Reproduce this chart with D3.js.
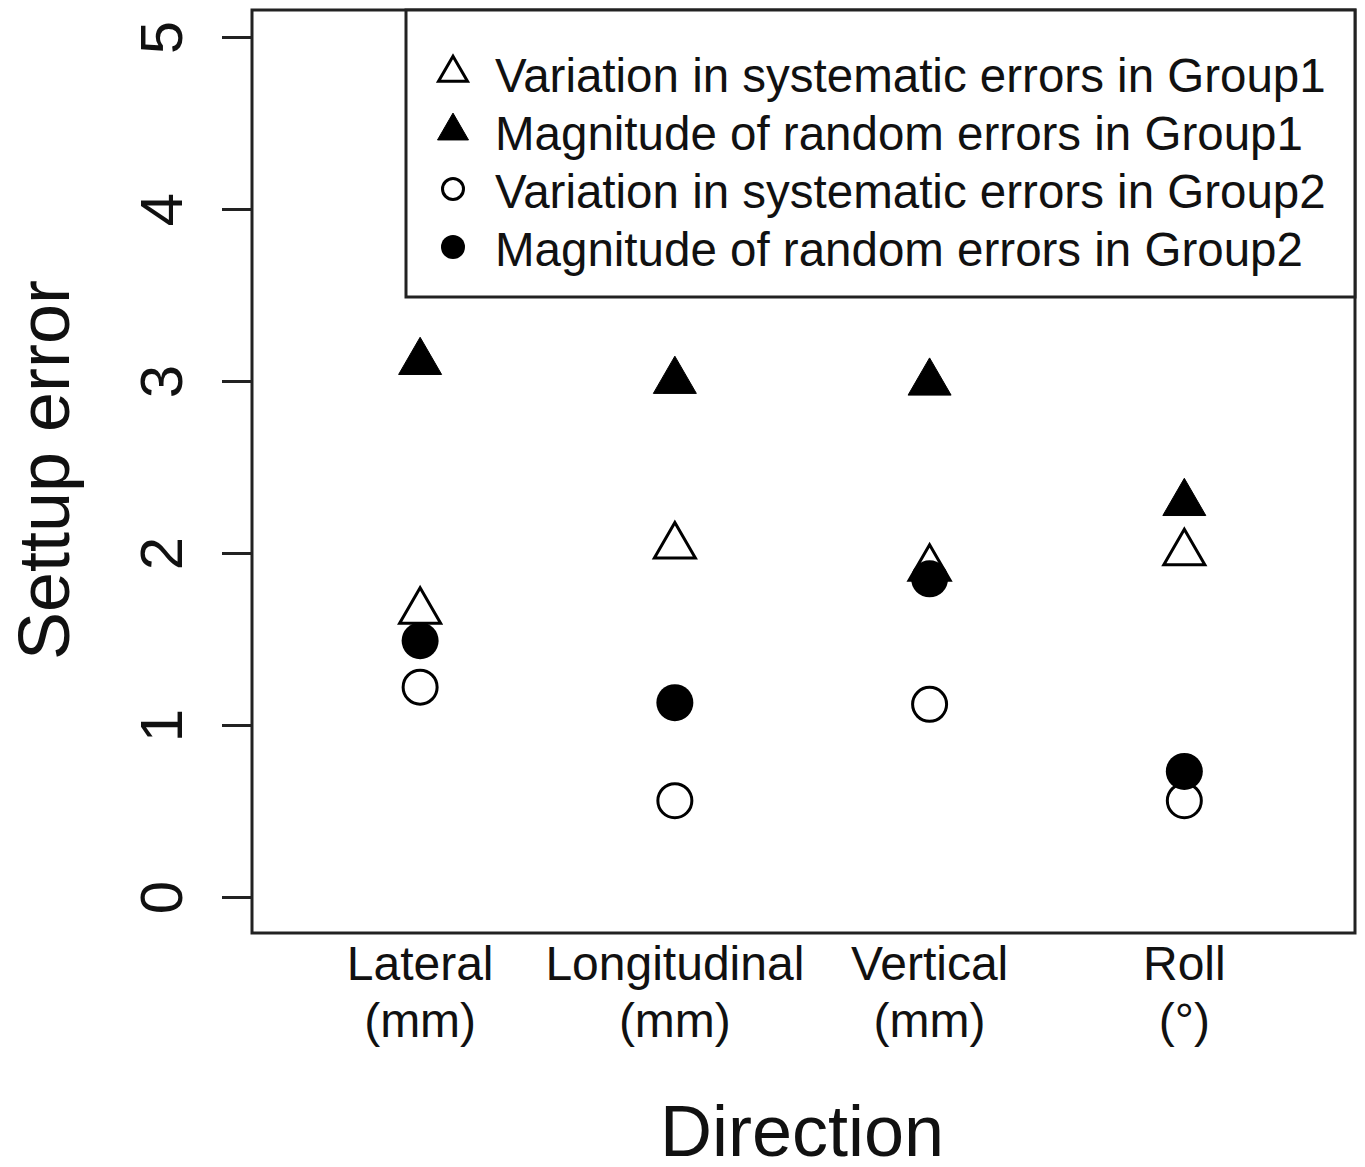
<!DOCTYPE html>
<html>
<head>
<meta charset="utf-8">
<script src="https://cdn.jsdelivr.net/npm/d3@7"></script>
<style>
  body { margin: 0; background: #fff; }
  text { font-family: "Liberation Sans", Arial, sans-serif; fill: #111; }
</style>
</head>
<body>
<svg id="chart" width="1365" height="1167"></svg>
<script>
// categories along the x axis (two-line labels)
const categories = [
  ["Lateral", "(mm)"],
  ["Longitudinal", "(mm)"],
  ["Vertical", "(mm)"],
  ["Roll", "(°)"],
];

// setup error values per direction
const sysGroup1 = [1.66, 2.04, 1.91, 2.0];
const randGroup1 = [3.11, 3.0, 2.99, 2.29];
const sysGroup2 = [1.22, 0.56, 1.12, 0.56];
const randGroup2 = [1.49, 1.13, 1.85, 0.73];

const yTicks = [0, 1, 2, 3, 4, 5];

const legendLabels = [
  "Variation in systematic errors in Group1",
  "Magnitude of random errors in Group1",
  "Variation in systematic errors in Group2",
  "Magnitude of random errors in Group2",
];

const series = [
  { values: sysGroup1, shape: "triangle", filled: false },
  { values: randGroup1, shape: "triangle", filled: true },
  { values: sysGroup2, shape: "circle", filled: false },
  { values: randGroup2, shape: "circle", filled: true },
];

const box = { left: 252, right: 1355, top: 10, bottom: 933 };

const svg = d3.select("#chart");

const x = d3.scaleLinear().domain([0.34, 4.67]).range([box.left, box.right]);
const y = d3.scaleLinear().domain([0, 5]).range([897, 37]);

// triangle path centred on its centroid, w = width
function triangle(w) {
  const k = w / 2.694;
  const r = 1.555 * k, xc = 1.347 * k, yc = 0.777 * k;
  return `M0,${-r}L${xc},${yc}L${-xc},${yc}Z`;
}

function drawMarker(g, s, size) {
  if (s.shape === "triangle") {
    g.append("path")
      .attr("d", triangle(s.filled ? size.tri - 1 : size.tri - 3))
      .attr("fill", s.filled ? "#000" : "#fff")
      .attr("stroke", "#000")
      .attr("stroke-width", s.filled ? 1 : 3)
      .attr("stroke-linejoin", "miter");
  } else {
    g.append("circle")
      .attr("r", s.filled ? size.circ : size.circ - 1.5)
      .attr("fill", s.filled ? "#000" : "#fff")
      .attr("stroke", "#000")
      .attr("stroke-width", s.filled ? 0 : 3);
  }
}

// points
series.forEach((s) => {
  s.values.forEach((v, i) => {
    const g = svg.append("g").attr("transform", `translate(${x(i + 1)},${y(v)})`);
    drawMarker(g, s, { tri: 44, circ: 18.5 });
  });
});

// plot box
svg.append("rect")
  .attr("x", box.left)
  .attr("y", box.top)
  .attr("width", box.right - box.left)
  .attr("height", box.bottom - box.top)
  .attr("fill", "none")
  .attr("stroke", "#222")
  .attr("stroke-width", 3);

// y axis
const yAxis = svg.append("g")
  .attr("transform", `translate(${box.left},0)`)
  .call(d3.axisLeft(y).tickValues(yTicks).tickSize(30).tickFormat(d3.format("d")));
yAxis.select(".domain").remove();
yAxis.selectAll(".tick line").attr("stroke", "#222").attr("stroke-width", 3);
yAxis.selectAll(".tick text")
  .attr("x", null).attr("dy", null)
  .attr("transform", "translate(-70,0) rotate(-90)")
  .attr("text-anchor", "middle")
  .attr("font-size", 60)
  .style("font-family", "'Liberation Sans', Arial, sans-serif")
  .attr("fill", "#111");

// x category labels
categories.forEach((lines, i) => {
  const t = svg.append("text")
    .attr("x", x(i + 1))
    .attr("y", 980)
    .attr("text-anchor", "middle")
    .attr("font-size", 48);
  lines.forEach((l, j) => {
    t.append("tspan").attr("x", x(i + 1)).attr("dy", j === 0 ? 0 : 57).text(l);
  });
});

// axis titles
svg.append("text")
  .attr("x", 802)
  .attr("y", 1156)
  .attr("text-anchor", "middle")
  .attr("font-size", 72)
  .text("Direction");

svg.append("text")
  .attr("transform", "translate(69,470) rotate(-90)")
  .attr("text-anchor", "middle")
  .attr("font-size", 72)
  .text("Settup error");

// legend
const legend = { left: 406, right: 1355, top: 10, bottom: 297 };
svg.append("rect")
  .attr("x", legend.left)
  .attr("y", legend.top)
  .attr("width", legend.right - legend.left)
  .attr("height", legend.bottom - legend.top)
  .attr("fill", "#fff")
  .attr("stroke", "#222")
  .attr("stroke-width", 3);

legendLabels.forEach((label, i) => {
  const cy = 73 + i * 58;
  const g = svg.append("g").attr("transform", `translate(453,${cy})`);
  drawMarker(g, series[i], { tri: 32, circ: 12 });
  svg.append("text")
    .attr("x", 495)
    .attr("y", cy + 19)
    .attr("font-size", 47.5)
    .text(label);
});
</script>
</body>
</html>
